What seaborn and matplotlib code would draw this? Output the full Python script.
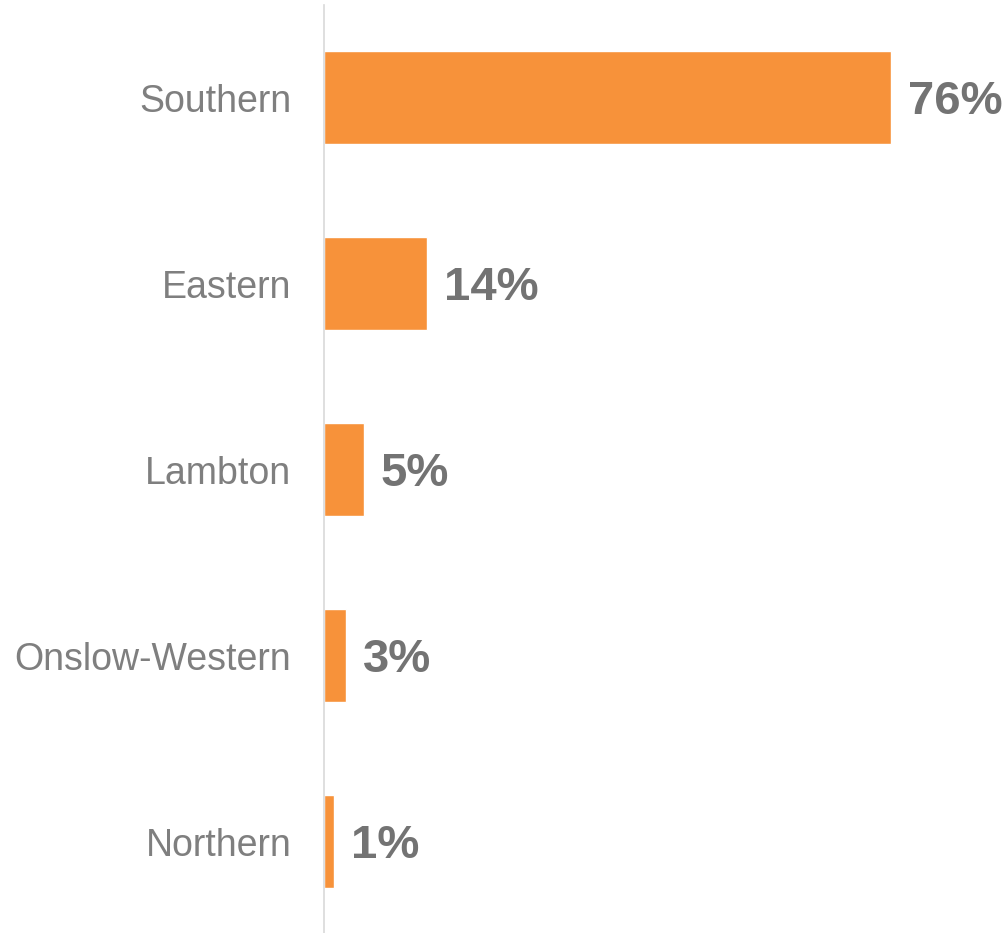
import matplotlib
matplotlib.use("Agg")
import matplotlib.pyplot as plt
import seaborn as sns
import pandas as pd

categories = ["Southern", "Eastern", "Lambton", "Onslow-Western", "Northern"]
values = [76, 13.8, 5.3, 3.0, 1.3]
value_labels = ["76%", "14%", "5%", "3%", "1%"]

sns.set_style("white")
plt.rcParams["font.family"] = ["Liberation Sans", "DejaVu Sans"]

df = pd.DataFrame({"region": categories, "pct": values})

fig = plt.figure(figsize=(10.07, 9.33), dpi=100)
ax = fig.add_axes([324 / 1007, 0.0, (1007 - 324) / 1007, (933 - 5) / 933])

sns.barplot(data=df, x="pct", y="region", order=categories, color="#F7923A",
            saturation=1, width=0.5, ax=ax)

ax.set_xlim(0, 91.5)
ax.set_ylim(4.49, -0.5)

for i, (v, lab) in enumerate(zip(values, value_labels)):
    ax.annotate(lab, xy=(v, i), xytext=(17, -4), textcoords="offset pixels",
                ha="left", va="center", fontsize=34, fontweight="bold",
                color="#737373")

ax.set_xlabel("")
ax.set_ylabel("")
ax.set_xticks([])
ax.tick_params(axis="y", length=0, pad=23.5, labelsize=27, labelcolor="#7F7F7F")
for s in ["top", "right", "bottom"]:
    ax.spines[s].set_visible(False)
ax.spines["left"].set_color("#D9D9D9")
ax.spines["left"].set_linewidth(1.2)

fig.savefig("out.png", dpi=100)
